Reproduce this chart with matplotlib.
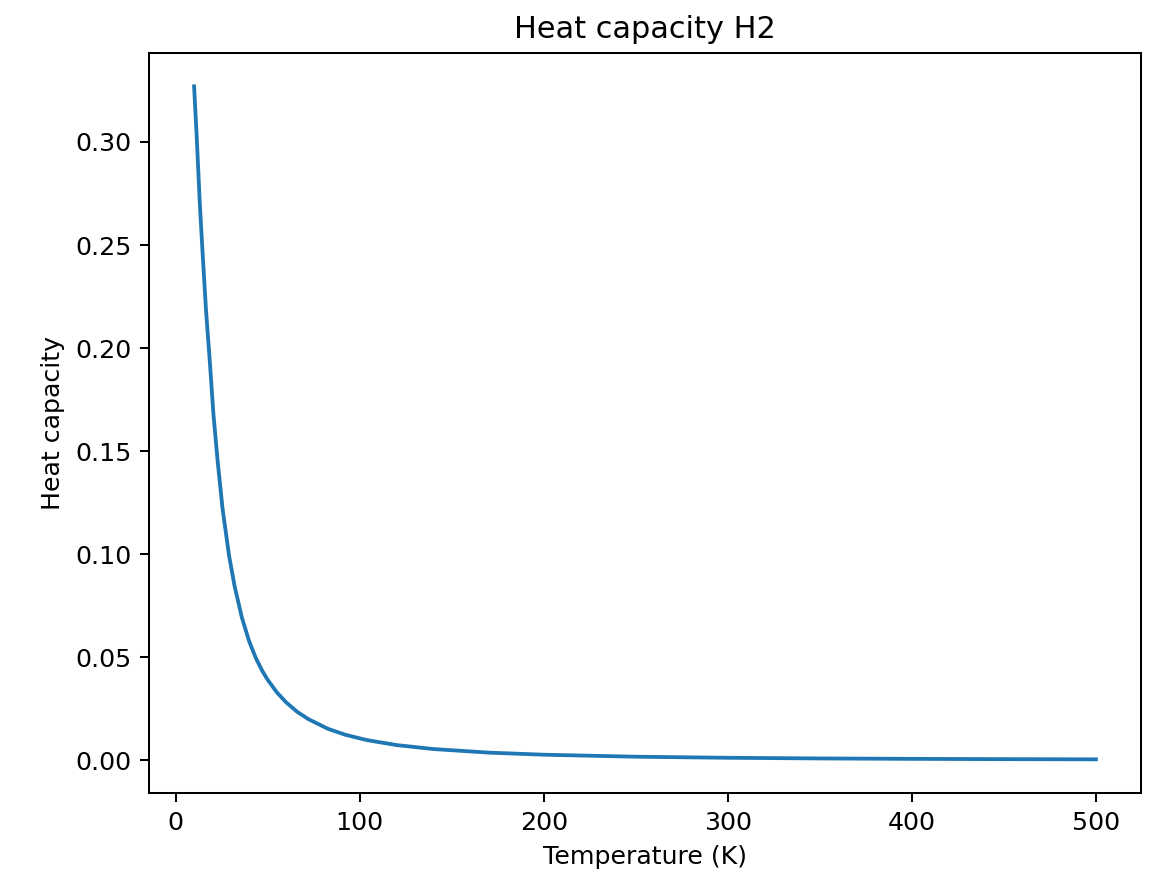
import matplotlib
matplotlib.use('Agg')
from matplotlib import pyplot as plt

# values
temperature = [10, 11.4, 13, 14.5, 16.5, 18.5, 20.5, 22.7, 25.5, 29, 32, 36, 40, 43.5,
               47, 50, 55, 60, 66, 72, 82.6, 92, 104, 120, 140, 170, 200, 250, 300,
               350, 400, 450, 500]
heat_capacity = [0.327, 0.303, 0.272, 0.248, 0.218, 0.194, 0.168, 0.146, 0.1218, 0.0993,
                 0.0845, 0.0691, 0.0575, 0.0497, 0.0434, 0.0390, 0.0329, 0.0281, 0.0235,
                 0.0200, 0.0153, 0.0124, 0.00975, 0.00736, 0.00543, 0.0037, 0.00268,
                 0.00171, 0.00119, 0.00087, 0.00067, 0.00053, 0.00043]

fig = plt.figure(figsize=(1164 / 182, 892 / 182), dpi=182)
ax = fig.add_axes([149 / 1164, 1 - 793 / 892, (1141 - 149) / 1164, (793 - 52.7) / 892])
ax.plot(temperature, heat_capacity)
ax.set_title('Heat capacity H2')
ax.set_xlabel('Temperature (K)')
ax.set_ylabel('Heat capacity')
fig.savefig('out.png', dpi=182)
